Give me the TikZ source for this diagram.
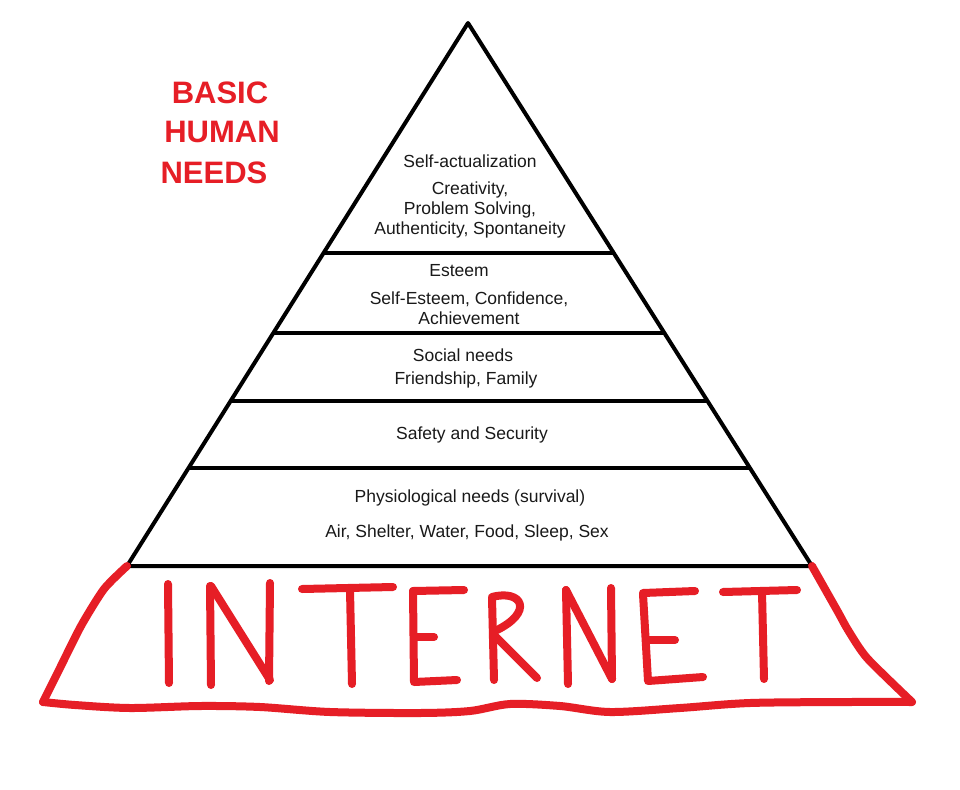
\documentclass[tikz,border=0pt]{standalone}
\usepackage{fontspec}
\setmainfont{Liberation Sans}
\usetikzlibrary{calc}
\definecolor{paintred}{RGB}{230,30,38}
\begin{document}
\begin{tikzpicture}[x=1pt,y=-1pt,
  pyr/.style={line width=4pt, line join=round, black},
  lvl/.style={line width=3.6pt, black},
  lab/.style={font=\fontsize{17.5}{20}\selectfont, align=center, inner sep=0pt, text=black!90},
  redtxt/.style={font=\fontsize{31}{32}\selectfont\bfseries, text=paintred, inner sep=0pt},
  paint/.style={paintred, line width=8pt, line cap=round, line join=round}]
\useasboundingbox (0,0) rectangle (960,789);
\fill[white] (0,0) rectangle (960,789);
% pyramid
\coordinate (apex) at (468,23);
\coordinate (bl) at (127,566);
\coordinate (br) at (812,566);
\draw[pyr] (bl) -- (apex) -- (br) -- cycle;
\foreach \t/\n in {0.4236/a,0.5709/b,0.6961/c,0.8195/d}{
  \coordinate (l\n) at ($(apex)!\t!(bl)$);
  \coordinate (r\n) at ($(apex)!\t!(br)$);
  \draw[lvl] (l\n) -- (r\n);
}
% labels
\node[lab] (sa) at (470,161) {Self-actualization};
\node[lab] (sad) at (470,210) {Creativity,\\Problem Solving,\\Authenticity, Spontaneity};
\node[lab] (es) at (459,271) {Esteem};
\node[lab] (esd) at (469,308) {Self-Esteem, Confidence,\\Achievement};
\node[lab] (so) at (463,355) {Social needs};
\node[lab] (sod) at (466,380) {Friendship, Family};
\node[lab] (sf) at (472,435) {Safety and Security};
\node[lab] (ph) at (470,498) {Physiological needs (survival)};
\node[lab] (phd) at (467,533) {Air, Shelter, Water, Food, Sleep, Sex};
% title
\node[redtxt] (t1) at (220,93) {BASIC};
\node[redtxt] (t2) at (222,132) {HUMAN};
\node[redtxt] (t3) at (214,173) {NEEDS};
% hand-drawn base
\draw[paint] plot[smooth, tension=0.4] coordinates {(bl) (104,589) (81,626) (58,672) (43,702)};
\draw[paint] plot[smooth, tension=0.5] coordinates {(43,702) (75,705) (130,708) (200,706) (260,707) (330,712) (420,713) (470,711) (510,704) (560,706) (610,712) (680,708) (750,703) (850,702) (912,702)};
\draw[paint] plot[smooth, tension=0.4] coordinates {(912,702) (867,658) (848,630) (838,612) (812,566)};
% INTERNET
\draw[paint] (168,584) -- (169,683);
\draw[paint] (210,586) -- (211,685);
\draw[paint] (211,586) -- (270,680);
\draw[paint] (270,583) -- (269,681);
\draw[paint] (302,589) -- (393,587);
\draw[paint] (350,590) -- (352,684);
\draw[paint] (413,591) -- (414,682) -- (457,680);
\draw[paint] (413,591) -- (464,590);
\draw[paint] (416,637) -- (434,637);
\draw[paint] (492,598) -- (494,680);
\draw[paint] (492,597) .. controls (522,589) and (535,612) .. (495,631);
\draw[paint] (496,637) -- (537,678);
\draw[paint] (566,590) -- (568,684);
\draw[paint] (566,590) -- (612,679);
\draw[paint] (611,588) -- (612,679);
\draw[paint] (643,594) -- (648,681) -- (703,677);
\draw[paint] (643,593) -- (695,591);
\draw[paint] (646,640) -- (675,640);
\draw[paint] (723,592) -- (797,590);
\draw[paint] (762,592) -- (764,679);
\end{tikzpicture}
\end{document}
